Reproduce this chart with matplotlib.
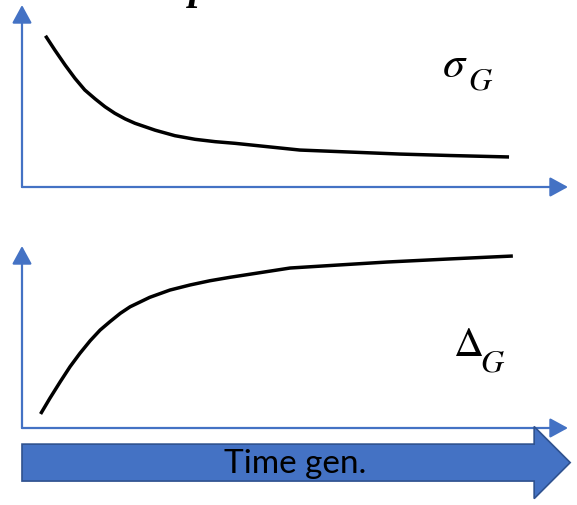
import matplotlib
matplotlib.use('Agg')

import matplotlib.pyplot as plt
from matplotlib.patches import FancyArrowPatch, FancyArrow

plt.rcParams['mathtext.fontset'] = 'stix'

# generation axis (0-100) and curve values (0-100)
gen_sigma = [4.3, 6.0, 7.9, 9.7, 11.5, 13.4, 15.2, 17.0, 18.9, 20.7, 24.4, 28.0,
             31.7, 35.4, 39.0, 50.9, 60.1, 69.2, 78.4, 89.2]
sigma_g = [83.1, 75.3, 67.0, 59.7, 53.3, 48.4, 44.1, 40.5, 37.4, 35.0, 31.2, 28.2,
           26.2, 24.9, 24.0, 20.3, 19.2, 18.1, 17.3, 16.5]

gen_delta = [3.4, 5.1, 7.0, 8.8, 10.6, 12.5, 14.3, 16.1, 18.0, 19.8, 23.4, 27.1,
             30.8, 34.4, 38.1, 49.1, 58.2, 66.9, 78.4, 89.9]
delta_g = [7.7, 16.3, 25.4, 33.7, 41.0, 48.0, 53.8, 58.4, 63.0, 66.6, 71.8, 75.8,
           78.6, 80.9, 82.8, 87.9, 89.6, 91.2, 92.9, 94.5]

symbols = [r'$\sigma$', r'$\Delta$']
subscript = r'$G$'
blue = '#4472C4'

fig = plt.figure(figsize=(5.77, 5.05), dpi=100)
ax1 = fig.add_axes([22/577, 318/505, 546/577, 182/505])
ax2 = fig.add_axes([22/577, 77/505, 546/577, 182/505])


def arrow_axes(ax):
    for a, b in [((0, 0), (1, 0)), ((0, 0), (0, 1))]:
        p = FancyArrowPatch(a, b, transform=ax.transAxes,
                            arrowstyle='-|>,head_length=0.55,head_width=0.3',
                            mutation_scale=20, color=blue, lw=1.6,
                            shrinkA=0, shrinkB=0, clip_on=False)
        ax.add_patch(p)


for ax in (ax1, ax2):
    ax.set_xlim(0, 100)
    ax.set_ylim(0, 100)
    ax.axis('off')
    arrow_axes(ax)

ax1.plot(gen_sigma, sigma_g, color='black', lw=2.5, solid_capstyle='butt')
ax2.plot(gen_delta, delta_g, color='black', lw=2.5, solid_capstyle='butt')

# labels: symbol plus a fairly large italic G subscript
ax1.text(76.9, 60.4, symbols[0], fontsize=32, ha='left', va='baseline')
ax1.text(81.6, 53.8, subscript, fontsize=23, ha='left', va='baseline')
ax2.text(78.9, 39.6, symbols[1], fontsize=30, ha='left', va='baseline')
ax2.text(83.8, 31.3, subscript, fontsize=23, ha='left', va='baseline')

# big "time" arrow under the lower panel
big = FancyArrow(0, -19, 100.4, 0, width=20.3, head_width=39.6, head_length=6.6,
                 length_includes_head=True, facecolor=blue, edgecolor='#2F528F',
                 lw=1.2, clip_on=False)
ax2.add_patch(big)
ax2.text(50, -20, 'Time gen.', fontsize=24, family='Lato', ha='center', va='center')

# cut-off glyph at the top edge
fig.text(189/577, 1.0 + 1/505, 'p', fontsize=30, family='Liberation Serif',
         style='italic', weight='bold', ha='left', va='baseline')

fig.savefig('out.png', dpi=100)
